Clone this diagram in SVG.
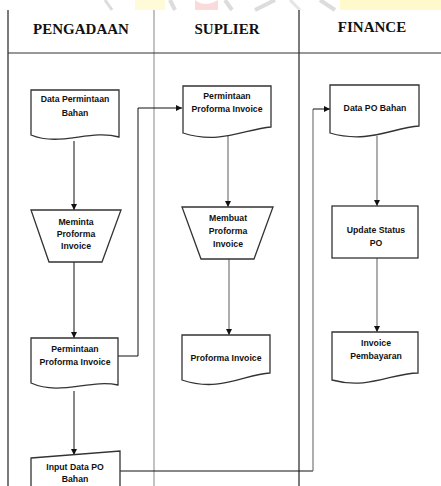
<svg xmlns="http://www.w3.org/2000/svg" width="441" height="486" viewBox="0 0 441 486">
<style>
.hdr{font-family:"Liberation Serif","Times New Roman",serif;font-weight:bold;font-size:15px;text-anchor:middle;fill:#111}
.lbl{font-family:"Liberation Sans",Arial,sans-serif;font-weight:bold;font-size:8.7px;text-anchor:middle;fill:#111}
.shape{fill:#fff;stroke:#333;stroke-width:1.3}
.lane{stroke-width:1.2;fill:none}
.c1{stroke:#111;stroke-width:1;fill:none}
.c2{stroke:#777;stroke-width:1.2;fill:none}
</style>
<defs>
<marker id="ah" viewBox="0 0 10 10" refX="10" refY="5" markerWidth="6" markerHeight="6" markerUnits="userSpaceOnUse" orient="auto">
<path d="M0,0 L10,5 L0,10 Z" fill="#111"/>
</marker>
</defs>
<rect width="441" height="486" fill="#fff"/>
<g id="watermark" opacity="0.5">
<rect x="340" y="0" width="101" height="10" fill="#fff59a"/>
<rect x="135" y="0" width="30" height="10" fill="#fff7b0"/>
<path d="M105,0 L112,10" stroke="#bbb" stroke-width="3"/>
<path d="M170,0 L175,10" stroke="#bbb" stroke-width="4"/>
<path d="M195,0 Q205,8 218,0 L218,10 L195,10 Z" fill="#f7b6b6"/>
<path d="M225,0 L232,10" stroke="#bbb" stroke-width="4"/>
<path d="M255,10 L275,0" stroke="#bbb" stroke-width="4"/>
<path d="M290,0 L300,10" stroke="#ccc" stroke-width="3"/>
<path d="M320,0 L335,10" stroke="#bbb" stroke-width="4"/>
</g>
<g id="lanes">
<line class="lane" x1="8" y1="10" x2="8" y2="486" stroke="#222"/>
<line class="lane" x1="154" y1="10" x2="154" y2="486" stroke="#999" stroke-width="1.6"/>
<line class="lane" x1="299" y1="10" x2="299" y2="486" stroke="#222"/>
<line class="lane" x1="8" y1="53" x2="441" y2="53" stroke="#333"/>
<text class="hdr" x="81" y="34">PENGADAAN</text>
<text class="hdr" x="227" y="34">SUPLIER</text>
<text class="hdr" x="372" y="32">FINANCE</text>
</g>
<g id="connectors">
<line class="c1" x1="74" y1="141" x2="74" y2="210" marker-end="url(#ah)"/>
<line class="c1" x1="74" y1="262" x2="74" y2="338" marker-end="url(#ah)"/>
<polyline class="c1" points="118,356 138,356 138,108 182,108" marker-end="url(#ah)"/>
<line class="c1" x1="74" y1="391" x2="74" y2="455" marker-end="url(#ah)"/>
<polyline class="c1" points="120,471 313,471"/>
<polyline class="c2" points="313,471 313,109"/>
<line class="c1" x1="313" y1="109" x2="330" y2="109" marker-end="url(#ah)"/>
<line class="c2" x1="228" y1="136" x2="228" y2="207" marker-end="url(#ah)"/>
<line class="c2" x1="229" y1="259" x2="229" y2="335" marker-end="url(#ah)"/>
<line class="c2" x1="377" y1="136" x2="377" y2="206" marker-end="url(#ah)"/>
<line class="c2" x1="377" y1="258" x2="377" y2="332" marker-end="url(#ah)"/>
</g>
<g id="n1">
<path class="shape" d="M31,90 H119 V137 C90,129 60,147 31,135 Z"/>
<text class="lbl" x="75" y="102">Data Permintaan</text>
<text class="lbl" x="75" y="116">Bahan</text>
</g>
<g id="n2">
<path class="shape" d="M31,210 H121 L102,262 H49 Z"/>
<text class="lbl" x="76" y="225">Meminta</text>
<text class="lbl" x="76" y="237">Proforma</text>
<text class="lbl" x="76" y="249">Invoice</text>
</g>
<g id="n3">
<path class="shape" d="M31,338 H118 V385 C90,379 60,396 31,383 Z"/>
<text class="lbl" x="75" y="352">Permintaan</text>
<text class="lbl" x="75" y="365">Proforma Invoice</text>
</g>
<g id="n4">
<path class="shape" d="M31,458 L120,451 V490 H31 Z"/>
<text class="lbl" x="75" y="470">Input Data PO</text>
<text class="lbl" x="75" y="482">Bahan</text>
</g>
<g id="n5">
<path class="shape" d="M183,86 H271 V127 C245,129 220,145 183,133 Z"/>
<text class="lbl" x="227" y="99">Permintaan</text>
<text class="lbl" x="227" y="112">Proforma Invoice</text>
</g>
<g id="n6">
<path class="shape" d="M182,207 H273 L254,259 H201 Z"/>
<text class="lbl" x="228" y="221">Membuat</text>
<text class="lbl" x="228" y="234">Proforma</text>
<text class="lbl" x="228" y="247">Invoice</text>
</g>
<g id="n7">
<path class="shape" d="M182,335 H270 V373 C245,374 220,393 182,380 Z"/>
<text class="lbl" x="226" y="361">Proforma Invoice</text>
</g>
<g id="n8">
<path class="shape" d="M330,85 H419 V126 C392,128 368,144 330,133 Z"/>
<text class="lbl" x="375" y="111">Data PO Bahan</text>
</g>
<g id="n9">
<rect class="shape" x="332" y="206" width="86" height="52"/>
<text class="lbl" x="376" y="233">Update Status</text>
<text class="lbl" x="376" y="246">PO</text>
</g>
<g id="n10">
<path class="shape" d="M332,332 H418 V373 C392,373 368,390 332,380 Z"/>
<text class="lbl" x="376" y="346">Invoice</text>
<text class="lbl" x="376" y="359">Pembayaran</text>
</g>
</svg>
